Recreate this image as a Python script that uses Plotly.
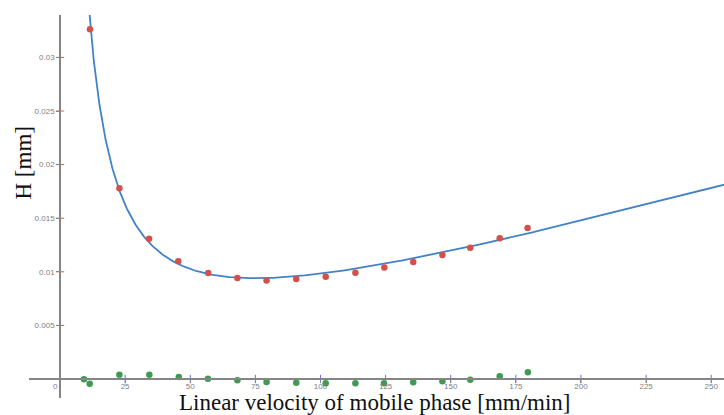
import numpy as np
import plotly.graph_objects as go

# Measured plate height H [mm] against linear velocity u [mm/min]
u_meas = [11.5, 22.8, 34.2, 45.4, 56.9, 68.1, 79.3, 90.7, 102.0, 113.4,
          124.5, 135.6, 146.8, 157.5, 168.8, 179.5]
h_meas = [0.03262, 0.01779, 0.01309, 0.01098, 0.00989, 0.00942, 0.00920,
          0.00933, 0.00954, 0.00992, 0.01039, 0.01091, 0.01157, 0.01225,
          0.01312, 0.01409]

# Residuals of the fit
u_res = [9.2, 11.4, 22.8, 34.3, 45.6, 56.8, 68.1, 79.3, 90.7, 102.0, 113.4,
         124.4, 135.6, 146.8, 157.5, 168.8, 179.6]
h_res = [-0.00003, -0.00044, 0.00040, 0.00040, 0.00019, 0.00003, -0.00012,
         -0.00028, -0.00034, -0.00040, -0.00040, -0.00040, -0.00031,
         -0.00022, -0.00006, 0.00025, 0.00062]

# Van Deemter coefficients: H = A + B/u + C*u
A_coef = -0.000886
B_coef = 0.3857
C_coef = 6.857e-5

x_ticks = [25, 50, 75, 100, 125, 150, 175, 200, 225, 250]
y_ticks = [0.005, 0.01, 0.015, 0.02, 0.025, 0.03]
y_tick_text = ["0.005", "0.01", "0.015", "0.02", "0.025", "0.03"]

X_RANGE = [-11.9, 254.9]
Y_RANGE = [-0.001772, 0.033955]

AXIS_GREY = "#858585"

u_fit = np.linspace(1.0, 260.0, 1200)
h_fit = A_coef + B_coef / u_fit + C_coef * u_fit

fig = go.Figure()
# tick marks crossing the axes through the origin
fig.add_trace(go.Scatter(x=x_ticks, y=[0] * len(x_ticks), mode="markers",
                         marker=dict(symbol="line-ns-open", size=6,
                                     line=dict(color=AXIS_GREY, width=1)),
                         hoverinfo="skip", cliponaxis=False))
fig.add_trace(go.Scatter(x=[0] * len(y_ticks), y=y_ticks, mode="markers",
                         marker=dict(symbol="line-ew-open", size=6,
                                     line=dict(color=AXIS_GREY, width=1)),
                         hoverinfo="skip", cliponaxis=False))
fig.add_trace(go.Scatter(x=u_fit, y=h_fit, mode="lines",
                         line=dict(color="#4282c8", width=1.8),
                         hoverinfo="skip"))
fig.add_trace(go.Scatter(x=u_meas, y=h_meas, mode="markers",
                         marker=dict(color="#d4504a", size=6.5)))
fig.add_trace(go.Scatter(x=u_res, y=h_res, mode="markers",
                         marker=dict(color="#3f9a52", size=6.5)))

x_pos = (0 - Y_RANGE[0]) / (Y_RANGE[1] - Y_RANGE[0])
y_pos = (0 - X_RANGE[0]) / (X_RANGE[1] - X_RANGE[0])

axis_font = dict(family="Liberation Sans, Arial, sans-serif", size=8, color="#808080")

fig.update_layout(
    width=724, height=415,
    margin=dict(l=29, r=0, t=15, b=17, pad=0),
    paper_bgcolor="white", plot_bgcolor="white",
    showlegend=False,
    xaxis=dict(range=X_RANGE, anchor="free", position=x_pos,
               showgrid=False, zeroline=False,
               showline=True, linecolor=AXIS_GREY, linewidth=1.5,
               ticks="outside", ticklen=3, tickcolor=AXIS_GREY, tickwidth=1,
               ticklabelstandoff=-3,
               tickvals=x_ticks, tickfont=axis_font),
    yaxis=dict(range=Y_RANGE, anchor="free", position=y_pos,
               showgrid=False, zeroline=False,
               showline=True, linecolor=AXIS_GREY, linewidth=1.5,
               ticks="outside", ticklen=3, tickcolor=AXIS_GREY, tickwidth=1,
               tickvals=y_ticks, ticktext=y_tick_text, tickfont=axis_font),
)

plot_w = 724 - 29
plot_h = 415 - 15 - 17


def px_x(p):
    return (p - 29) / plot_w


def px_y(p):
    return (398 - p) / plot_h


title_font = dict(family="Liberation Serif, Times New Roman, serif", size=23, color="#111")

fig.add_annotation(text="Linear velocity of mobile phase [mm/min]",
                   x=px_x(375), y=px_y(402), xref="paper", yref="paper",
                   showarrow=False, font=title_font,
                   xanchor="center", yanchor="middle")
fig.add_annotation(text="H [mm]", textangle=-90,
                   x=px_x(23), y=px_y(163.5), xref="paper", yref="paper",
                   showarrow=False, font=title_font,
                   xanchor="center", yanchor="middle")
fig.add_annotation(text="0", x=px_x(55.5), y=px_y(386), xref="paper", yref="paper",
                   showarrow=False, font=axis_font,
                   xanchor="center", yanchor="middle")

fig.write_html("out.html")
